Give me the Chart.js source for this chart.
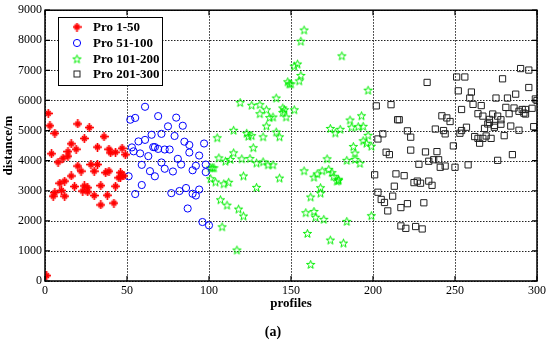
<!DOCTYPE html>
<html>
<head>
<meta charset="utf-8">
<script src="https://cdn.jsdelivr.net/npm/chart.js@4/dist/chart.umd.min.js"></script>
<style>
  html, body { margin: 0; padding: 0; background: #fff; }
  #chart { display: block; }
</style>
</head>
<body>
<canvas id="chart" width="550" height="347"></canvas>
<script>
/* ── Data ───────────────────────────────────────────────── */

const seriesLabels = ['Pro 1-50', 'Pro 51-100', 'Pro 101-200', 'Pro 201-300'];
const xTicks = [0, 50, 100, 150, 200, 250, 300];
const yTicks = [0, 1000, 2000, 3000, 4000, 5000, 6000, 7000, 8000, 9000];

const redX = [1, 2, 3, 6, 20, 27, 16, 24, 36, 32, 19, 39, 47, 14, 14, 4, 11, 8, 20, 22, 16, 9, 12, 18, 10,
  6, 5, 12, 23, 24, 26, 26, 30, 28, 32, 30, 34, 34, 37, 39, 38, 40, 43, 42, 43, 49, 46, 46, 45, 48];
const redY = [180, 5570, 5160, 4910, 5220, 5100, 4560, 4740, 4800, 4450, 4380, 4380, 4410, 4300, 4150, 4230, 4080, 3950, 3820, 3650, 3490, 3250, 3320, 3140, 3010,
  2940, 2820, 2820, 2990, 3160, 3100, 2960, 2840, 3870, 3870, 3650, 3170, 2530, 3600, 3650, 2850, 4260, 4280, 2590, 3150, 4200, 3600, 3450, 3430, 3490];

const blueX = [51, 52, 53, 54, 55, 55, 57, 58, 59, 59, 61, 61, 63, 64, 65, 66, 67, 67, 69, 69, 71, 71, 73, 73, 75,
  76, 77, 78, 79, 80, 81, 82, 83, 84, 85, 86, 87, 88, 88, 90, 90, 92, 92, 94, 94, 96, 97, 98, 98, 100];
const blueY = [3480, 5360, 4440, 4310, 2890, 5420, 4640, 4240, 3860, 3190, 5790, 4690, 4150, 3650, 4860, 4450, 4450, 3480, 5480, 4390, 4890, 3940, 3730, 4370, 5140,
  4370, 2920, 3640, 4820, 5430, 4060, 2990, 3870, 5160, 4630, 3090, 2410, 4520, 4270, 3680, 2900, 2840, 3830, 4170, 3040, 1960, 4570, 3870, 3620, 1850];

const greenX = [101, 101, 102, 103, 104, 105, 106, 107, 108, 109, 110, 111, 112, 113, 115, 115, 117, 118, 119, 120, 121, 121, 123, 124, 125,
  126, 126, 127, 129, 129, 131, 131, 133, 133, 135, 135, 136, 137, 139, 139, 141, 141, 143, 143, 145, 145, 146, 147, 148, 149,
  150, 152, 152, 154, 155, 156, 156, 158, 158, 159, 160, 162, 162, 164, 164, 165, 166, 168, 168, 169, 170, 172, 173, 174, 174,
  175, 176, 178, 179, 179, 177, 180, 181, 182, 184, 184, 186, 187, 188, 189, 189, 191, 192, 193, 194, 194, 196, 197, 197, 199, 199];
const greenY = [3400, 3760, 3760, 3760, 3290, 4760, 4090, 2700, 1800, 3230, 3980, 2520, 3280, 4040, 4260, 5010, 1030, 2390, 5930, 4060, 2160, 3490, 4910, 4810, 4070,
  4830, 5840, 4430, 3920, 3110, 5860, 5560, 3960, 4790, 5690, 5150, 3860, 5430, 3860, 5450, 6080, 4950, 4790, 3420, 5600, 5750, 5690, 5450, 6620, 6550,
  6550, 5690, 7140, 7210, 6650, 6830, 7970, 8340, 3660, 2270, 1580, 2790, 550, 3450, 2310, 2120, 3560, 3100, 2920, 3660, 2050, 4060, 3710, 1360, 5070,
  3600, 3480, 3320, 3340, 3380, 4920, 5040, 7480, 1260, 1980, 4010, 5350, 5110, 4470, 4250, 4040, 5130, 3910, 5490, 5140, 4660, 4580, 4840, 6340, 4480, 2170];

const blackX = [201, 202, 203, 203, 205, 206, 207, 208, 209, 210, 211, 212, 213, 214, 215, 216, 217, 217, 219, 220, 221, 221, 223, 223, 225,
  226, 227, 228, 229, 230, 231, 232, 233, 234, 234, 236, 237, 238, 239, 240, 241, 242, 243, 244, 244, 245, 247, 249, 250, 251,
  252, 253, 254, 254, 256, 257, 258, 259, 260, 261, 262, 264, 264, 265, 266, 267, 267, 268, 269, 270, 271, 271, 272, 273, 274,
  274, 275, 276, 276, 278, 278, 279, 280, 281, 282, 283, 284, 285, 286, 287, 289, 289, 290, 291, 292, 293, 293, 295, 295, 297, 298, 299, 300];
const blackY = [3530, 5820, 4720, 2950, 2710, 4890, 2610, 4280, 2330, 4200, 5860, 2820, 3150, 3560, 5360, 5360, 2440, 1830, 3500, 1750, 4990, 2570, 4780, 4350, 3270,
  1810, 3320, 3880, 3250, 1730, 2600, 4290, 6600, 3980, 3320, 3180, 4030, 5050, 4300, 4030, 3780, 5490, 5000, 4890, 3820, 5420, 5300, 4490, 3780, 6780,
  6320, 4910, 5000, 5700, 6780, 5110, 3860, 6080, 6280, 5870, 4800, 4740, 5560, 4580, 5830, 4740, 5480, 5070, 4820, 5220, 5370, 5270, 4740, 5550, 5170,
  5110, 6080, 5480, 4010, 5360, 5210, 6720, 4830, 5770, 6080, 5560, 5150, 4200, 5750, 6210, 5640, 5010, 7060, 5700, 5580, 5700, 5550, 7010, 6430, 5740, 5130, 6050, 6000];

/* ── Marker images ─────────────────────────────────────── */

// MATLAB-like '*' marker drawn thick (plus + small x)
function makeAsterisk(color) {
  const c = document.createElement('canvas');
  c.width = 9; c.height = 9;
  const g = c.getContext('2d');
  g.strokeStyle = color;
  g.lineCap = 'round';
  g.lineWidth = 1.8;
  g.beginPath();
  g.moveTo(4.5, 0.8); g.lineTo(4.5, 8.2);
  g.moveTo(0.8, 4.5); g.lineTo(8.2, 4.5);
  g.stroke();
  g.lineWidth = 1.5;
  g.beginPath();
  g.moveTo(2.6, 2.6); g.lineTo(6.4, 6.4);
  g.moveTo(6.4, 2.6); g.lineTo(2.6, 6.4);
  g.stroke();
  return c;
}

// outlined five-point star
function makePentagram(color) {
  const c = document.createElement('canvas');
  c.width = 11; c.height = 11;
  const g = c.getContext('2d');
  g.strokeStyle = color;
  g.lineWidth = 1;
  g.beginPath();
  for (let i = 0; i < 10; i++) {
    const r = i % 2 === 0 ? 4.4 : 1.8;
    const a = -Math.PI / 2 + i * Math.PI / 5;
    const px = 5.5 + r * Math.cos(a), py = 5.8 + r * Math.sin(a);
    if (i === 0) g.moveTo(px, py); else g.lineTo(px, py);
  }
  g.closePath();
  g.stroke();
  return c;
}

const redMark = makeAsterisk('#ff0000');
const greenMark = makePentagram('#00ee00');

function pts(xs, ys) {
  return xs.map((x, i) => ({ x, y: ys[i] }));
}

const serif = "'Liberation Serif', 'Times New Roman', serif";

/* ── Plugins: dotted grid, frame with inward ticks, legend box, caption ── */

const framePlugin = {
  id: 'frame',
  beforeDatasetsDraw(chart) {
    const { ctx, chartArea: a, scales } = chart;
    ctx.save();
    ctx.strokeStyle = '#222';
    ctx.lineWidth = 1;
    ctx.setLineDash([1.5, 1.5]);
    ctx.beginPath();
    xTicks.forEach(t => {
      const px = Math.round(scales.x.getPixelForValue(t)) + 0.5;
      ctx.moveTo(px, a.top); ctx.lineTo(px, a.bottom);
    });
    yTicks.forEach(t => {
      const py = Math.round(scales.y.getPixelForValue(t)) + 0.5;
      ctx.moveTo(a.left, py); ctx.lineTo(a.right, py);
    });
    ctx.stroke();
    ctx.restore();
  },
  afterDatasetsDraw(chart) {
    const { ctx, chartArea: a, scales } = chart;
    ctx.save();
    ctx.strokeStyle = '#000';
    ctx.lineWidth = 1.5;
    ctx.strokeRect(a.left, a.top, a.right - a.left, a.bottom - a.top);
    ctx.lineWidth = 1.2;
    ctx.beginPath();
    xTicks.forEach(t => {
      const px = scales.x.getPixelForValue(t);
      ctx.moveTo(px, a.bottom); ctx.lineTo(px, a.bottom - 5);
      ctx.moveTo(px, a.top); ctx.lineTo(px, a.top + 5);
    });
    yTicks.forEach(t => {
      const py = scales.y.getPixelForValue(t);
      ctx.moveTo(a.left, py); ctx.lineTo(a.left + 5, py);
      ctx.moveTo(a.right, py); ctx.lineTo(a.right - 5, py);
    });
    ctx.stroke();
    ctx.restore();
  },
  afterDraw(chart) {
    const ctx = chart.ctx;
    ctx.save();
    // legend box
    ctx.fillStyle = '#fff';
    ctx.fillRect(58, 17, 104, 68);
    ctx.strokeStyle = '#000';
    ctx.lineWidth = 1;
    ctx.strokeRect(58.5, 17.5, 104, 68);
    const rows = [27, 43, 59, 74];
    ctx.font = 'bold 13px ' + serif;
    ctx.textBaseline = 'middle';
    ctx.fillStyle = '#000';
    chart.data.datasets.forEach((ds, i) => {
      const y = rows[i], x = 77;
      if (i === 0) ctx.drawImage(redMark, x - 4.5, y - 4.5);
      if (i === 1) {
        ctx.strokeStyle = '#0000ff';
        ctx.beginPath(); ctx.arc(x, y, 3.6, 0, Math.PI * 2); ctx.stroke();
      }
      if (i === 2) ctx.drawImage(greenMark, x - 5.5, y - 5.5);
      if (i === 3) {
        ctx.strokeStyle = '#222';
        ctx.strokeRect(x - 3, y - 3, 6, 6);
      }
      ctx.fillText(ds.label, 93, y + 1);
    });
    // caption
    ctx.font = 'bold 14px ' + serif;
    ctx.textAlign = 'center';
    ctx.fillText('(a)', 273, 332);
    ctx.restore();
  }
};

/* ── Chart ─────────────────────────────────────────────── */

new Chart(document.getElementById('chart'), {
  type: 'scatter',
  data: {
    datasets: [
      { label: seriesLabels[0], data: pts(redX, redY), pointStyle: redMark, pointRadius: 4 },
      { label: seriesLabels[1], data: pts(blueX, blueY), pointStyle: 'circle', pointRadius: 3.6,
        borderColor: '#0000ff', backgroundColor: 'rgba(0,0,0,0)', borderWidth: 1 },
      { label: seriesLabels[2], data: pts(greenX, greenY), pointStyle: greenMark, pointRadius: 4 },
      { label: seriesLabels[3], data: pts(blackX, blackY), pointStyle: 'rect', pointRadius: 4.4,
        borderColor: '#222', backgroundColor: 'rgba(0,0,0,0)', borderWidth: 1 }
    ]
  },
  options: {
    responsive: false,
    animation: false,
    layout: { padding: { top: 9, right: 13, bottom: 36, left: 0 } },
    plugins: { legend: { display: false }, tooltip: { enabled: false } },
    scales: {
      x: {
        type: 'linear', min: 0, max: 300,
        afterFit: s => { s.height = 30; },
        afterBuildTicks: s => { s.ticks = xTicks.map(v => ({ value: v })); },
        ticks: { color: '#000', font: { family: serif, size: 12 }, padding: 3, maxRotation: 0,
          callback: v => String(v) },
        grid: { display: false, drawTicks: false },
        border: { display: false },
        title: { display: true, text: 'profiles', color: '#000',
          font: { family: serif, size: 13, weight: 'bold' }, padding: { top: 0, bottom: 0 } }
      },
      y: {
        type: 'linear', min: 0, max: 9000,
        afterFit: s => { s.width = 45; },
        afterBuildTicks: s => { s.ticks = yTicks.map(v => ({ value: v })); },
        ticks: { color: '#000', font: { family: serif, size: 12 }, padding: 3,
          callback: v => String(v) },
        grid: { display: false, drawTicks: false },
        border: { display: false },
        title: { display: true, text: 'distance/m', color: '#000',
          font: { family: serif, size: 13, weight: 'bold' }, padding: { top: 1, bottom: 0 } }
      }
    }
  },
  plugins: [framePlugin]
});
</script>
</body>
</html>
